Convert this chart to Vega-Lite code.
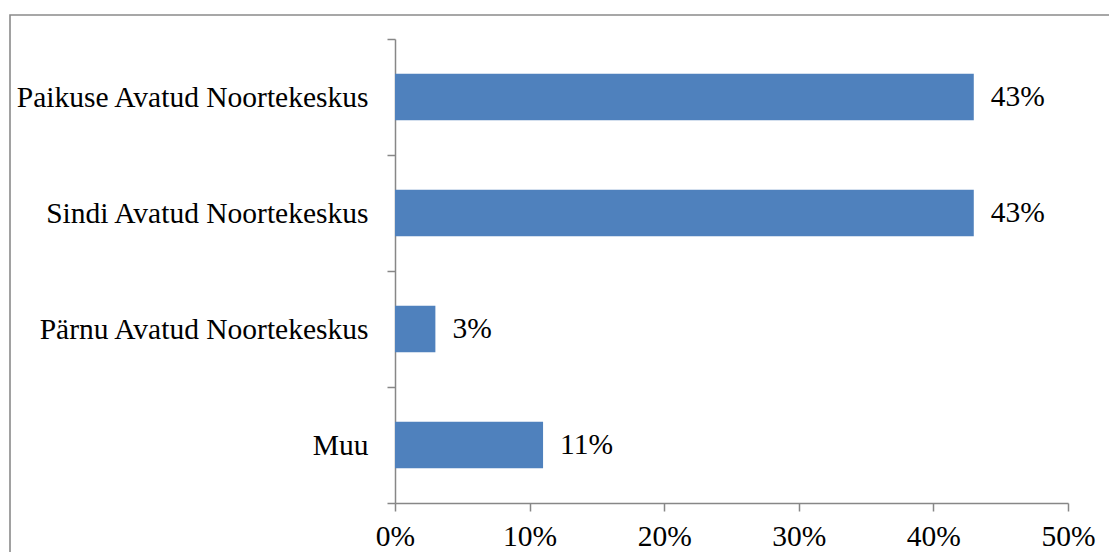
{
  "$schema": "https://vega.github.io/schema/vega-lite/v6.json",
  "autosize": {"type": "none"},
  "padding": {"left": 10, "top": 15, "right": 0, "bottom": 0},
  "width": 1110,
  "height": 560,
  "background": "white",
  "config": {
    "view": {"stroke": "#8a8a8a", "strokeWidth": 1.6},
    "font": "Liberation Serif"
  },
  "data": {
    "values": [
      {"keskus": "Paikuse Avatud Noortekeskus", "osakaal": 0.43},
      {"keskus": "Sindi Avatud Noortekeskus", "osakaal": 0.43},
      {"keskus": "Pärnu Avatud Noortekeskus", "osakaal": 0.03},
      {"keskus": "Muu", "osakaal": 0.11}
    ]
  },
  "encoding": {
    "y": {
      "field": "keskus",
      "type": "nominal",
      "sort": null,
      "scale": {"range": [24, 488], "paddingInner": 0, "paddingOuter": 0},
      "axis": {
        "title": null,
        "offset": -385,
        "tickBand": "extent",
        "tickSize": 8,
        "tickColor": "#878787",
        "tickWidth": 1.5,
        "domainColor": "#878787",
        "domainWidth": 1.5,
        "labelFont": "Liberation Serif",
        "labelFontSize": 29.5,
        "labelColor": "#000000",
        "labelPadding": 19,
        "labelLimit": 0
      }
    },
    "x": {
      "field": "osakaal",
      "type": "quantitative",
      "scale": {"domain": [0, 0.5], "range": [385, 1058], "nice": false},
      "axis": {
        "title": null,
        "offset": -72,
        "values": [0, 0.1, 0.2, 0.3, 0.4, 0.5],
        "format": ".0%",
        "grid": false,
        "tickSize": 8,
        "tickColor": "#878787",
        "tickWidth": 1.5,
        "domainColor": "#878787",
        "domainWidth": 1.5,
        "labelFont": "Liberation Serif",
        "labelFontSize": 29.5,
        "labelColor": "#000000",
        "labelPadding": 11,
        "labelOverlap": false,
        "labelFlush": false
      }
    }
  },
  "layer": [
    {
      "mark": {"type": "bar", "color": "#4f81bd", "height": {"band": 0.4}}
    },
    {
      "mark": {
        "type": "text",
        "align": "left",
        "baseline": "middle",
        "dx": 17,
        "fontSize": 29.5,
        "font": "Liberation Serif",
        "color": "#000000"
      },
      "encoding": {
        "text": {"field": "osakaal", "type": "quantitative", "format": ".0%"}
      }
    }
  ]
}
